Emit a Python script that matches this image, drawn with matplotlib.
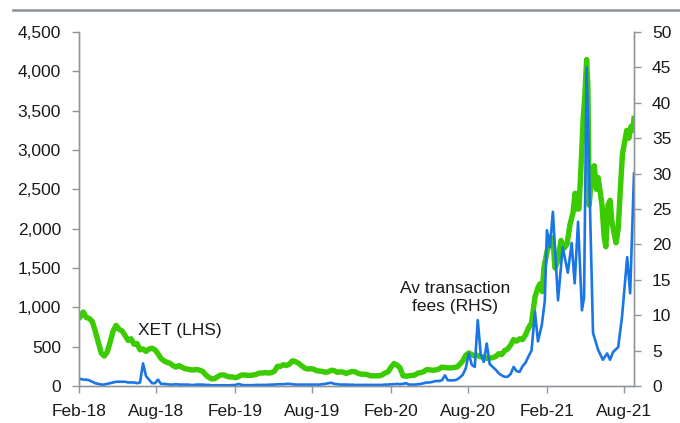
import numpy as np
import pandas as pd
import matplotlib
matplotlib.use("Agg")
import matplotlib.pyplot as plt
import matplotlib.dates as mdates
from matplotlib.ticker import FuncFormatter, MultipleLocator

plt.rcParams["font.family"] = ["Liberation Sans", "DejaVu Sans"]
plt.rcParams["font.size"] = 12.5

# weekly readings, Feb-18 to end of Dec-20
weekly_start = "2018-02-04"
xet_weekly = [
    880, 940, 870, 860, 820, 700, 560, 420, 380, 430, 560, 700, 770, 720, 700, 640,
    580, 600, 530, 540, 460, 470, 440, 470, 480, 460, 410, 350, 320, 300, 290, 260,
    240, 260, 240, 220, 215, 205, 205, 210, 200, 185, 140, 110, 90, 95, 120, 140,
    # 2019
    140, 125, 115, 115, 105, 120, 140, 140, 135, 135, 140, 150, 165, 165, 170, 165,
    170, 190, 250, 250, 270, 260, 280, 320, 310, 290, 260, 230, 215, 220, 215, 195,
    190, 185, 175, 180, 200, 195, 175, 180, 175, 160, 175, 185, 180, 160, 150, 150,
    145, 130, 130, 130,
    # 2020
    130, 140, 165, 180, 240, 285, 265, 230, 130, 125, 130, 135, 140, 165, 170, 185,
    210, 205, 200, 205, 215, 240, 235, 230, 230, 235, 240, 275, 320, 390, 420, 400,
    380, 390, 370, 370, 350, 355, 360, 375, 410, 400, 450, 470, 520, 590, 570, 600,
    590, 650, 740, 800,
]
fees_weekly = [
    1.0, 0.9, 0.9, 0.8, 0.6, 0.4, 0.3, 0.2, 0.2, 0.3, 0.4, 0.5, 0.6, 0.6, 0.6, 0.6,
    0.5, 0.5, 0.5, 0.4, 0.5, 3.2, 1.4, 0.9, 0.4, 0.4, 0.9, 0.3, 0.3, 0.25, 0.2, 0.2,
    0.25, 0.2, 0.2, 0.2, 0.2, 0.15, 0.15, 0.2, 0.2, 0.2, 0.15, 0.15, 0.1, 0.1, 0.1, 0.1,
    # 2019
    0.1, 0.1, 0.1, 0.12, 0.15, 0.3, 0.15, 0.12, 0.12, 0.12, 0.12, 0.15, 0.15, 0.15, 0.15, 0.18,
    0.2, 0.2, 0.25, 0.25, 0.25, 0.3, 0.3, 0.25, 0.2, 0.2, 0.2, 0.2, 0.2, 0.2, 0.2, 0.2,
    0.2, 0.25, 0.3, 0.4, 0.45, 0.3, 0.25, 0.2, 0.2, 0.2, 0.18, 0.18, 0.15, 0.15, 0.15, 0.15,
    0.15, 0.15, 0.15, 0.15,
    # 2020
    0.15, 0.15, 0.2, 0.2, 0.25, 0.25, 0.3, 0.25, 0.3, 0.4, 0.2, 0.2, 0.2, 0.25, 0.3, 0.4,
    0.5, 0.5, 0.6, 0.7, 0.7, 0.8, 1.5, 0.8, 0.8, 0.8, 0.9, 1.2, 1.6, 2.5, 4.6, 3.0,
    2.7, 9.3, 4.5, 3.4, 6.0, 3.1, 2.7, 2.3, 1.8, 1.5, 1.3, 1.3, 1.7, 2.7, 2.1, 2.0,
    2.8, 3.3, 4.2, 5.0,
]

# 2021 moves faster, so read at the turning points
xet_dates_2021 = [
    "2021-01-04", "2021-01-11", "2021-01-16", "2021-01-21", "2021-01-25", "2021-02-01",
    "2021-02-09", "2021-02-16", "2021-02-20", "2021-02-27", "2021-03-06", "2021-03-13",
    "2021-03-20", "2021-03-27", "2021-04-03", "2021-04-08", "2021-04-13", "2021-04-17",
    "2021-04-22", "2021-04-27", "2021-05-01", "2021-05-05", "2021-05-08", "2021-05-11",
    "2021-05-14", "2021-05-18", "2021-05-23", "2021-05-28", "2021-06-01", "2021-06-06",
    "2021-06-10", "2021-06-15", "2021-06-19", "2021-06-24", "2021-06-29", "2021-07-03",
    "2021-07-08", "2021-07-13", "2021-07-18", "2021-07-23", "2021-07-28", "2021-08-02",
    "2021-08-07", "2021-08-12", "2021-08-17", "2021-08-21", "2021-08-24",
]
xet_2021 = [
    1130, 1250, 1300, 1200, 1500, 1700,
    1900, 1800, 1500, 1600, 1850, 1750,
    1800, 2050, 2200, 2450, 2250, 2250,
    2800, 3400, 3700, 4150, 3800, 2300,
    2500, 2750, 2800, 2500, 2650, 2450,
    2300, 1900, 1770, 2300, 2360, 2100,
    1950, 1820, 2000, 2500, 2950, 3100,
    3250, 3150, 3300, 3250, 3400,
]
fees_dates_2021 = [
    "2021-01-04", "2021-01-11", "2021-01-20", "2021-01-27", "2021-02-01", "2021-02-08",
    "2021-02-15", "2021-02-27", "2021-03-10", "2021-03-22", "2021-03-31", "2021-04-07",
    "2021-04-15", "2021-04-24", "2021-04-29", "2021-05-05", "2021-05-20", "2021-06-01",
    "2021-06-12", "2021-06-22", "2021-06-29", "2021-07-06", "2021-07-18", "2021-07-27",
    "2021-08-08", "2021-08-15", "2021-08-24",
]
fees_2021 = [
    10.5, 6.3, 8.6, 12.0, 22.0, 19.6,
    24.6, 12.1, 19.6, 16.0, 20.2, 14.5,
    23.2, 10.7, 12.5, 45.0, 7.5, 5.1,
    3.7, 4.6, 3.7, 4.8, 5.5, 9.8,
    18.2, 13.1, 30.0,
]

green = "#3acc00"
blue = "#1a75e6"
grey = "#8f969e"
ink = "#1a1a1a"

weekly_dates = pd.date_range(weekly_start, periods=len(xet_weekly), freq="7D")
xet_x = list(weekly_dates) + list(pd.to_datetime(xet_dates_2021))
xet_y = xet_weekly + xet_2021
fee_x = list(weekly_dates) + list(pd.to_datetime(fees_dates_2021))
fee_y = fees_weekly + fees_2021

fig = plt.figure(figsize=(6.8, 4.23), dpi=100)
ax = fig.add_axes([79 / 680, 37 / 423, 555 / 680, 354 / 423])
ax2 = ax.twinx()

ax.plot(xet_x, xet_y, color=green, lw=3.9, solid_joinstyle="round")
ax2.plot(fee_x, fee_y, color=blue, lw=1.9, solid_joinstyle="round")

ax.set_xlim(pd.Timestamp("2018-02-01"), pd.Timestamp("2021-08-24"))
ax.set_ylim(0, 4500)
ax2.set_ylim(0, 50)
ax.yaxis.set_major_locator(MultipleLocator(500))
ax.yaxis.set_major_formatter(FuncFormatter(lambda v, p: f"{int(v):,}"))
ax2.yaxis.set_major_locator(MultipleLocator(5))
ax.xaxis.set_major_locator(mdates.MonthLocator(bymonth=[2, 8], bymonthday=1))
ax.xaxis.set_major_formatter(mdates.DateFormatter("%b-%y"))

for a in (ax, ax2):
    a.spines["top"].set_visible(False)
    for s in ("left", "right", "bottom"):
        a.spines[s].set_color(grey)
        a.spines[s].set_linewidth(1.0)
    a.tick_params(colors=grey, labelcolor=ink, length=5, width=1.0, pad=8,
                  labelsize=12.5)

ax.text(0.182, 0.158, "XET (LHS)", transform=ax.transAxes, ha="center",
        va="center", color=ink, fontsize=12.5)
ax.text(0.677, 0.25, "Av transaction\nfees (RHS)", transform=ax.transAxes,
        ha="center", va="center", color=ink, fontsize=12.5, linespacing=1.25)

fig.add_artist(plt.Line2D([13 / 680, 1.0], [1 - 10.5 / 423] * 2,
                          transform=fig.transFigure, color="#8a9098", lw=1.8))

fig.savefig("out.png", dpi=100)
